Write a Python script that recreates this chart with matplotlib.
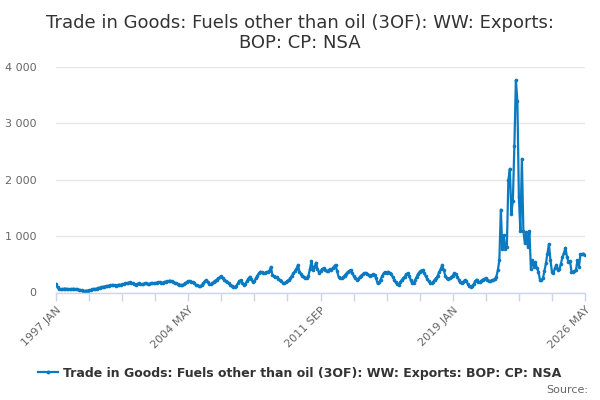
import matplotlib
matplotlib.use("Agg")
import matplotlib.pyplot as plt
from matplotlib.ticker import FixedLocator, FuncFormatter
from matplotlib.lines import Line2D
import numpy as np

title = "Trade in Goods: Fuels other than oil (3OF): WW: Exports:\nBOP: CP: NSA"
series_name = "Trade in Goods: Fuels other than oil (3OF): WW: Exports: BOP: CP: NSA"
start_year = 1997

v1997 = [150, 90, 60, 55, 60, 65, 70, 65, 60, 55, 60, 65]
v1998 = [65, 60, 55, 50, 45, 40, 35, 30, 30, 35, 40, 45]
v1999 = [55, 65, 60, 70, 80, 85, 95, 100, 105, 110, 115, 120]
v2000 = [125, 130, 135, 125, 120, 130, 140, 135, 145, 150, 160, 165]
v2001 = [170, 185, 175, 160, 150, 140, 150, 160, 155, 145, 150, 160]
v2002 = [165, 155, 150, 160, 170, 165, 160, 175, 185, 180, 170, 175]
v2003 = [185, 195, 200, 205, 210, 200, 190, 175, 160, 150, 140, 135]
v2004 = [130, 145, 165, 185, 200, 205, 195, 180, 160, 140, 125, 115]
v2005 = [110, 130, 165, 200, 220, 190, 150, 145, 160, 190, 210, 230]
v2006 = [250, 270, 290, 260, 230, 200, 180, 160, 140, 120, 105, 100]
v2007 = [120, 160, 200, 220, 170, 130, 150, 200, 240, 280, 240, 180]
v2008 = [200, 250, 300, 340, 370, 360, 350, 345, 360, 370, 380, 455]
v2009 = [310, 290, 270, 270, 240, 220, 200, 170, 165, 180, 210, 220]
v2010 = [260, 300, 340, 380, 420, 490, 370, 330, 300, 280, 260, 250]
v2011 = [300, 420, 560, 400, 450, 530, 420, 350, 380, 410, 430, 400]
v2012 = [390, 380, 410, 400, 430, 460, 490, 380, 280, 260, 250, 270]
v2013 = [300, 330, 360, 380, 400, 350, 300, 260, 230, 240, 270, 300]
v2014 = [320, 340, 350, 330, 310, 300, 310, 320, 310, 250, 160, 180]
v2015 = [230, 290, 340, 360, 350, 370, 350, 320, 280, 230, 180, 150]
v2016 = [130, 180, 220, 250, 280, 320, 340, 300, 220, 160, 170, 220]
v2017 = [280, 330, 370, 390, 400, 350, 290, 240, 200, 170, 160, 190]
v2018 = [230, 250, 300, 360, 420, 490, 400, 300, 250, 240, 250, 270]
v2019 = [300, 340, 320, 280, 230, 180, 160, 190, 220, 200, 150, 110]
v2020 = [100, 120, 150, 200, 230, 190, 180, 210, 230, 240, 250, 230]
v2021 = [210, 200, 215, 225, 240, 280, 395, 570, 1470, 780, 1015, 780]
v2022 = [810, 1990, 2195, 1400, 1630, 2590, 3770, 3400, 1690, 1090, 2370, 1090]
v2023 = [870, 1075, 810, 1090, 425, 570, 450, 540, 430, 370, 230, 220]
v2024 = [250, 380, 520, 690, 860, 575, 370, 350, 430, 490, 400, 420]
v2025 = [513, 630, 700, 795, 630, 543, 560, 370, 365, 380, 400, 575]
v2026 = [460, 680, 680, 690, 670]

values = (v1997 + v1998 + v1999 + v2000 + v2001 + v2002 + v2003 + v2004 + v2005 +
          v2006 + v2007 + v2008 + v2009 + v2010 + v2011 + v2012 + v2013 + v2014 +
          v2015 + v2016 + v2017 + v2018 + v2019 + v2020 + v2021 + v2022 + v2023 +
          v2024 + v2025 + v2026)
months = ["JAN", "FEB", "MAR", "APR", "MAY", "JUN", "JUL", "AUG", "SEP", "OCT", "NOV", "DEC"]
labels = [f"{start_year + i // 12} {months[i % 12]}" for i in range(len(values))]
x = np.arange(len(values))

yticks = [0, 1000, 2000, 3000, 4000]

color = "#0a7bc2"
axis_col = "#ccd6eb"
text_col = "#666666"

fig = plt.figure(figsize=(6, 4), dpi=100)
ax = fig.add_axes([56/600, 1 - 292.5/400, (585-56)/600, (292.5-67)/400])

ax.plot(x, values, color=color, lw=1.6, marker="o", ms=2.6, mew=0)
ax.set_xlim(0, len(values) - 1)
ax.set_ylim(0, 4000)

ax.yaxis.set_major_locator(FixedLocator(yticks))
ax.yaxis.set_major_formatter(FuncFormatter(lambda v, p: f"{int(v):,}".replace(",", " ")))
ax.grid(axis="y", color="#e6e6e6", lw=1)
ax.set_axisbelow(True)

major = list(range(0, len(values), 88))
minor = list(range(0, len(values), 22))
ax.xaxis.set_major_locator(FixedLocator(minor))
ax.set_xticklabels([labels[i] if i in major else "" for i in minor],
                   rotation=45, ha="right", rotation_mode="anchor",
                   fontsize=8, color=text_col)
ax.tick_params(axis="x", length=6, color=axis_col, width=1, pad=3)
ax.tick_params(axis="y", length=0, labelsize=8, labelcolor=text_col, pad=14)

for s in ["left", "right", "top"]:
    ax.spines[s].set_visible(False)
ax.spines["bottom"].set_color(axis_col)
ax.spines["bottom"].set_linewidth(1)

fig.text(0.5, 1 - 33/400, title, ha="center", va="center", fontsize=13, color="#333333",
         linespacing=1.2)

handle = Line2D([0], [0], color=color, lw=1.6, marker="o", ms=2.8, mew=0)
fig.legend([handle], [series_name], loc="center", bbox_to_anchor=(0.5, 1 - 373/400),
           frameon=False, prop={"size": 9, "weight": "bold"}, labelcolor="#333333",
           handlelength=1.6, handletextpad=0.4)
fig.text(588/600, 1 - 390/400, "Source:", ha="right", va="center", fontsize=8, color=text_col)

fig.savefig("out.png", dpi=100)
